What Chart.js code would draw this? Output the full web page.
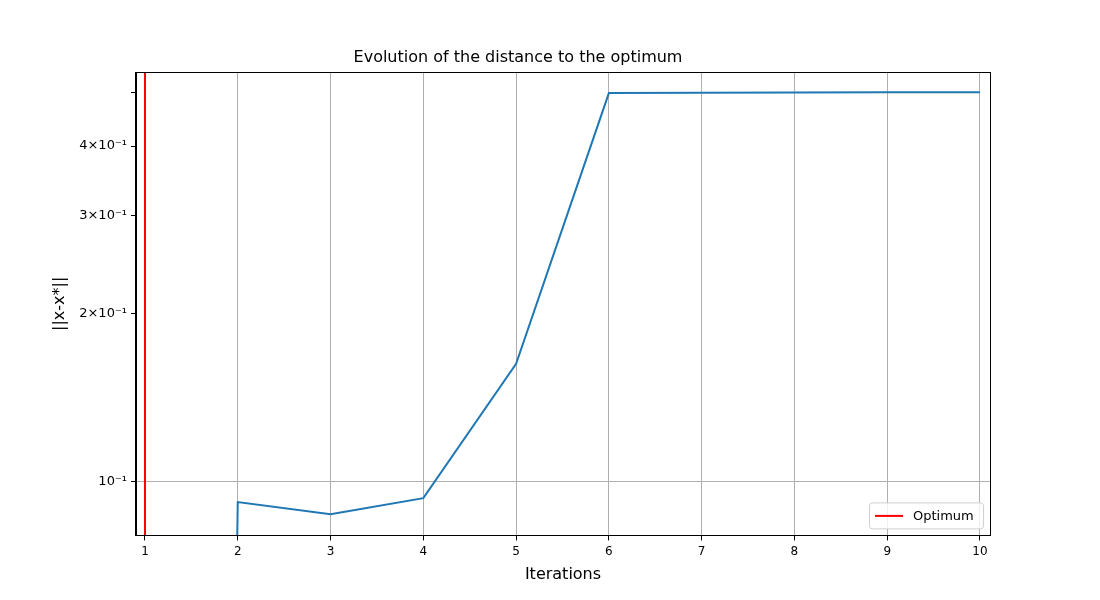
<!DOCTYPE html>
<html>
<head>
<meta charset="utf-8">
<script src="https://cdn.jsdelivr.net/npm/chart.js@4.4.0/dist/chart.umd.min.js"></script>
<style>
  html, body { margin: 0; padding: 0; background: #fff; }
  #wrap { width: 1100px; height: 600px; }
</style>
</head>
<body>
<div id="wrap"><canvas id="c"></canvas></div>
<script>
// values
const iterations = [1, 2, 3, 4, 5, 6, 7, 8, 9, 10];
const distance   = [1e-12, 0.0917, 0.0872, 0.0932, 0.1625, 0.498, 0.499, 0.4995, 0.4998, 0.500];
const optimumX   = 1;
const yTicks     = [0.1, 0.2, 0.3, 0.4, 0.5];
const yLabels    = { 0.1: '10\u207B\u00B9', 0.2: '2\u00D710\u207B\u00B9', 0.3: '3\u00D710\u207B\u00B9', 0.4: '4\u00D710\u207B\u00B9' };
const Y_MIN = 0.0799, Y_MAX = 0.543;

const FONT = 'DejaVu Sans';

// frame around the plot + legend box in the lower right corner
const cornerLegend = {
  id: 'cornerLegend',
  afterDraw(chart) {
    const { ctx, chartArea: a } = chart;
    ctx.save();
    ctx.strokeStyle = '#000';
    ctx.lineWidth = 1;
    ctx.strokeRect(Math.round(a.left) + 0.5, Math.round(a.top) + 0.5,
                   Math.round(a.right - a.left), Math.round(a.bottom - a.top));
    const w = 114, h = 26;
    const x = a.right - w - 7, y = a.bottom - h - 7;
    ctx.fillStyle = 'rgba(255,255,255,0.8)';
    ctx.strokeStyle = '#d0d0d0';
    ctx.beginPath();
    ctx.roundRect(x + 0.5, y + 0.5, w, h, 3);
    ctx.fill(); ctx.stroke();
    ctx.strokeStyle = 'red';
    ctx.lineWidth = 2;
    ctx.beginPath();
    ctx.moveTo(x + 6, y + h / 2 + 0.5);
    ctx.lineTo(x + 34, y + h / 2 + 0.5);
    ctx.stroke();
    ctx.fillStyle = '#000';
    ctx.font = '13px ' + FONT;
    ctx.textBaseline = 'middle';
    ctx.fillText(chart.data.datasets[1].label, x + 44, y + h / 2 + 1);
    ctx.restore();
  }
};

new Chart(document.getElementById('c'), {
  type: 'line',
  data: {
    datasets: [
      {
        label: 'distance',
        data: iterations.map((x, i) => ({ x, y: distance[i] })),
        borderColor: '#1f77b4', borderWidth: 2, pointRadius: 0, tension: 0,
      },
      {
        label: 'Optimum',
        data: [{ x: optimumX, y: Y_MIN }, { x: optimumX, y: Y_MAX }],
        borderColor: 'red', borderWidth: 2, pointRadius: 0,
      },
    ],
  },
  options: {
    responsive: true,
    maintainAspectRatio: false,
    animation: false,
    layout: { padding: { left: 46, right: 110, top: 48, bottom: 12 } },
    plugins: {
      legend: { display: false },
      tooltip: { enabled: false },
      title: {
        display: true, text: 'Evolution of the distance to the optimum',
        color: '#000', font: { family: FONT, size: 16, weight: 'normal' }, padding: { bottom: 5 },
      },
    },
    scales: {
      x: {
        type: 'linear', min: 0.903, max: 10.108,
        afterBuildTicks: (s) => { s.ticks = iterations.map(v => ({ value: v })); },
        ticks: { color: '#000', font: { family: FONT, size: 12 }, padding: 4 },
        grid: { color: '#b0b0b0', tickColor: '#000', tickLength: 5 },
        border: { color: '#000' },
        title: { display: true, text: 'Iterations', color: '#000', font: { family: FONT, size: 16 }, padding: { top: 2 } },
      },
      y: {
        type: 'logarithmic', min: Y_MIN, max: Y_MAX,
        afterBuildTicks: (s) => { s.ticks = yTicks.map(v => ({ value: v })); },
        ticks: {
          color: '#000', font: { family: FONT, size: 13 }, padding: 4,
          callback: (v) => yLabels[Math.round(v * 10) / 10] || '',
        },
        grid: {
          color: (c) => (Math.abs(c.tick.value - 0.1) < 1e-9 ? '#b0b0b0' : 'transparent'),
          tickColor: '#000', tickLength: 5,
        },
        border: { color: '#000' },
        title: { display: true, text: '||x-x*||', color: '#000', font: { family: FONT, size: 16 }, padding: { bottom: 6 } },
      },
    },
  },
  plugins: [cornerLegend],
});
</script>
</body>
</html>
